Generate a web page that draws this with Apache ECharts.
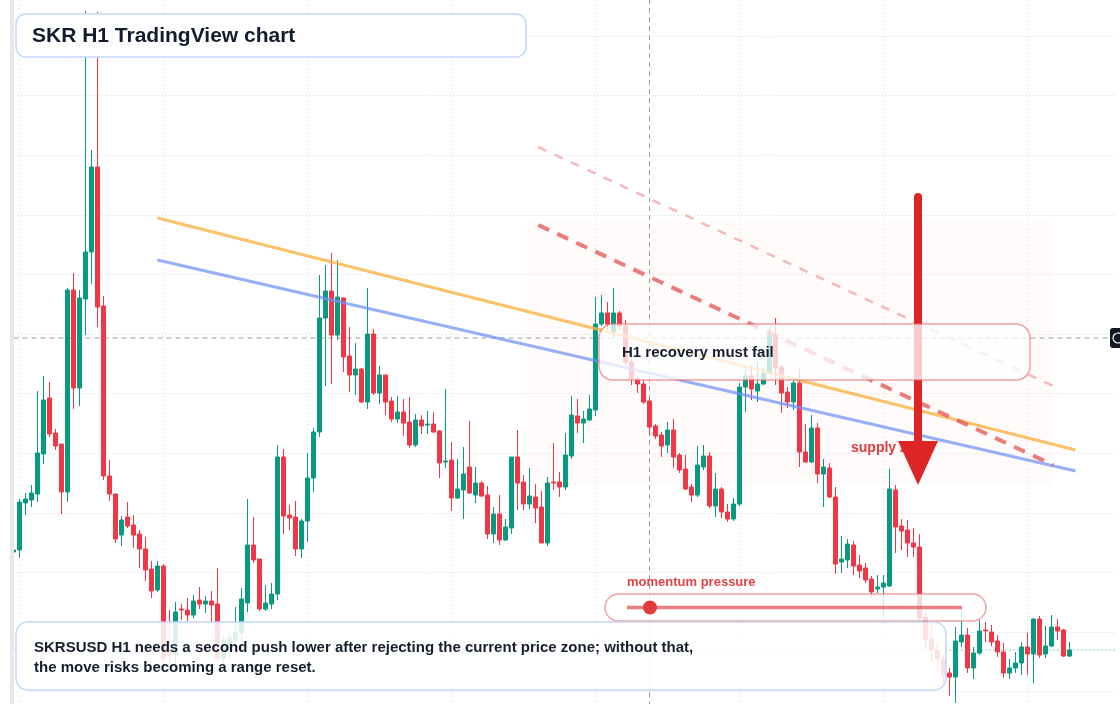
<!DOCTYPE html>
<html>
<head>
<meta charset="utf-8">
<title>SKR H1 TradingView chart</title>
<script src="https://cdn.jsdelivr.net/npm/echarts@6/dist/echarts.min.js"></script>
<style>
    html, body {margin: 0; padding: 0; background: #fff;}
    #chart {width: 1120px; height: 704px;}
</style>
</head>
<body>
<div id="chart"></div>
<script>
// SKRUSD hourly candles
const opens = [
    0.02464, 0.02466, 0.02513, 0.02516, 0.02522, 0.02562, 0.02618, 0.02583, 0.02572, 0.02524,
    0.02726, 0.02628, 0.02717, 0.02764, 0.02849, 0.02710, 0.02540, 0.02522, 0.02481, 0.02499,
    0.02491, 0.02482, 0.02467, 0.02447, 0.02426, 0.02450, 0.02366, 0.02361, 0.02407, 0.02406,
    0.02401, 0.02416, 0.02412, 0.02415, 0.02412, 0.02358, 0.02368, 0.02376, 0.02383, 0.02413,
    0.02471, 0.02457, 0.02407, 0.02412, 0.02422, 0.02559, 0.02501, 0.02499, 0.02467, 0.02495,
    0.02538, 0.02584, 0.02698, 0.02725, 0.02681, 0.02718, 0.02660, 0.02641, 0.02647, 0.02614,
    0.02682, 0.02623, 0.02641, 0.02615, 0.02597, 0.02604, 0.02594, 0.02571, 0.02596, 0.02591,
    0.02592, 0.02585, 0.02554, 0.02556, 0.02518, 0.02526, 0.02549, 0.02521, 0.02533, 0.02521,
    0.02482, 0.02502, 0.02476, 0.02488, 0.02559, 0.02534, 0.02512, 0.02519, 0.02509, 0.02473,
    0.02534, 0.02534, 0.02529, 0.02560, 0.02600, 0.02593, 0.02596, 0.02606, 0.02692, 0.02703,
    0.02684, 0.02703, 0.02690, 0.02654, 0.02637, 0.02632, 0.02615, 0.02590, 0.02581, 0.02571,
    0.02586, 0.02561, 0.02547, 0.02529, 0.02521, 0.02549, 0.02560, 0.02510, 0.02527, 0.02504,
    0.02497, 0.02512, 0.02629, 0.02640, 0.02625, 0.02632, 0.02643, 0.02681, 0.02649, 0.02624,
    0.02614, 0.02633, 0.02564, 0.02554, 0.02588, 0.02542, 0.02548, 0.02519, 0.02454, 0.02456,
    0.02471, 0.02451, 0.02448, 0.02437, 0.02427, 0.02429, 0.02430, 0.02526, 0.02490, 0.02486,
    0.02473, 0.02469, 0.02399, 0.02377, 0.02366, 0.02357, 0.02343, 0.02339, 0.02374, 0.02381,
    0.02348, 0.02363, 0.02386, 0.02384, 0.02375, 0.02364, 0.02343, 0.02348, 0.02353, 0.02369,
    0.02362, 0.02397, 0.02362, 0.02370, 0.02389, 0.02386, 0.02360
];
const closes = [
    0.02466, 0.02514, 0.02517, 0.02523, 0.02563, 0.02616, 0.02582, 0.02570, 0.02524, 0.02726,
    0.02628, 0.02718, 0.02764, 0.02849, 0.02709, 0.02540, 0.02522, 0.02477, 0.02496, 0.02490,
    0.02481, 0.02467, 0.02446, 0.02425, 0.02450, 0.02358, 0.02361, 0.02404, 0.02406, 0.02401,
    0.02415, 0.02412, 0.02415, 0.02411, 0.02358, 0.02376, 0.02378, 0.02384, 0.02417, 0.02471,
    0.02456, 0.02407, 0.02413, 0.02422, 0.02559, 0.02500, 0.02498, 0.02467, 0.02495, 0.02538,
    0.02584, 0.02698, 0.02725, 0.02681, 0.02719, 0.02659, 0.02641, 0.02647, 0.02614, 0.02682,
    0.02623, 0.02641, 0.02614, 0.02597, 0.02604, 0.02593, 0.02571, 0.02596, 0.02590, 0.02592,
    0.02584, 0.02553, 0.02555, 0.02518, 0.02527, 0.02542, 0.02523, 0.02533, 0.02520, 0.02482,
    0.02502, 0.02476, 0.02489, 0.02559, 0.02533, 0.02512, 0.02520, 0.02508, 0.02473, 0.02533,
    0.02533, 0.02529, 0.02561, 0.02601, 0.02593, 0.02597, 0.02607, 0.02692, 0.02703, 0.02692,
    0.02703, 0.02690, 0.02654, 0.02637, 0.02632, 0.02614, 0.02589, 0.02580, 0.02570, 0.02586,
    0.02559, 0.02546, 0.02527, 0.02521, 0.02551, 0.02560, 0.02510, 0.02527, 0.02504, 0.02497,
    0.02512, 0.02629, 0.02640, 0.02627, 0.02632, 0.02643, 0.02681, 0.02648, 0.02623, 0.02614,
    0.02633, 0.02564, 0.02554, 0.02588, 0.02542, 0.02549, 0.02519, 0.02452, 0.02457, 0.02472,
    0.02450, 0.02445, 0.02436, 0.02424, 0.02429, 0.02433, 0.02527, 0.02489, 0.02485, 0.02473,
    0.02469, 0.02398, 0.02376, 0.02366, 0.02357, 0.02341, 0.02339, 0.02375, 0.02381, 0.02348,
    0.02363, 0.02385, 0.02385, 0.02374, 0.02364, 0.02343, 0.02348, 0.02353, 0.02369, 0.02362,
    0.02397, 0.02361, 0.02370, 0.02389, 0.02385, 0.02360, 0.02366
];
const lows = [
    0.02463, 0.02458, 0.02501, 0.02509, 0.02514, 0.02552, 0.02579, 0.02566, 0.02502, 0.02514,
    0.02607, 0.02610, 0.02681, 0.02732, 0.02689, 0.02536, 0.02515, 0.02473, 0.02470, 0.02488,
    0.02468, 0.02448, 0.02435, 0.02418, 0.02424, 0.02354, 0.02351, 0.02351, 0.02396, 0.02395,
    0.02398, 0.02407, 0.02403, 0.02394, 0.02355, 0.02353, 0.02357, 0.02370, 0.02376, 0.02404,
    0.02453, 0.02405, 0.02405, 0.02407, 0.02416, 0.02482, 0.02486, 0.02460, 0.02458, 0.02474,
    0.02524, 0.02579, 0.02630, 0.02632, 0.02676, 0.02644, 0.02624, 0.02621, 0.02613, 0.02607,
    0.02621, 0.02612, 0.02601, 0.02594, 0.02593, 0.02580, 0.02568, 0.02569, 0.02582, 0.02582,
    0.02583, 0.02538, 0.02548, 0.02505, 0.02517, 0.02497, 0.02522, 0.02513, 0.02519, 0.02477,
    0.02473, 0.02471, 0.02475, 0.02482, 0.02506, 0.02506, 0.02507, 0.02493, 0.02473, 0.02470,
    0.02526, 0.02519, 0.02526, 0.02557, 0.02583, 0.02573, 0.02595, 0.02600, 0.02690, 0.02686,
    0.02678, 0.02686, 0.02651, 0.02631, 0.02623, 0.02612, 0.02581, 0.02577, 0.02559, 0.02563,
    0.02548, 0.02543, 0.02526, 0.02514, 0.02519, 0.02546, 0.02508, 0.02499, 0.02498, 0.02494,
    0.02495, 0.02510, 0.02604, 0.02616, 0.02614, 0.02631, 0.02642, 0.02631, 0.02603, 0.02608,
    0.02606, 0.02549, 0.02553, 0.02553, 0.02533, 0.02509, 0.02518, 0.02442, 0.02443, 0.02448,
    0.02441, 0.02438, 0.02433, 0.02418, 0.02423, 0.02399, 0.02429, 0.02463, 0.02466, 0.02459,
    0.02459, 0.02396, 0.02366, 0.02354, 0.02344, 0.02331, 0.02320, 0.02313, 0.02369, 0.02343,
    0.02337, 0.02361, 0.02374, 0.02370, 0.02359, 0.02338, 0.02337, 0.02343, 0.02341, 0.02341,
    0.02333, 0.02358, 0.02358, 0.02369, 0.02376, 0.02359, 0.02359
];
const highs = [
    0.02467, 0.02517, 0.02523, 0.02531, 0.02625, 0.02640, 0.02634, 0.02587, 0.02572, 0.02728,
    0.02743, 0.02726, 0.03005, 0.02866, 0.03004, 0.02720, 0.02556, 0.02522, 0.02500, 0.02514,
    0.02501, 0.02486, 0.02479, 0.02455, 0.02455, 0.02452, 0.02406, 0.02414, 0.02412, 0.02418,
    0.02421, 0.02429, 0.02420, 0.02425, 0.02448, 0.02380, 0.02383, 0.02409, 0.02428, 0.02517,
    0.02499, 0.02457, 0.02431, 0.02433, 0.02571, 0.02567, 0.02511, 0.02515, 0.02497, 0.02563,
    0.02588, 0.02741, 0.02751, 0.02763, 0.02756, 0.02719, 0.02689, 0.02673, 0.02648, 0.02728,
    0.02687, 0.02650, 0.02641, 0.02619, 0.02620, 0.02617, 0.02619, 0.02602, 0.02601, 0.02605,
    0.02604, 0.02586, 0.02627, 0.02574, 0.02557, 0.02569, 0.02595, 0.02549, 0.02535, 0.02530,
    0.02509, 0.02521, 0.02497, 0.02559, 0.02586, 0.02541, 0.02548, 0.02532, 0.02525, 0.02539,
    0.02573, 0.02544, 0.02583, 0.02620, 0.02617, 0.02605, 0.02621, 0.02719, 0.02721, 0.02714,
    0.02728, 0.02705, 0.02696, 0.02661, 0.02640, 0.02636, 0.02618, 0.02592, 0.02584, 0.02594,
    0.02597, 0.02563, 0.02561, 0.02532, 0.02570, 0.02571, 0.02564, 0.02543, 0.02529, 0.02512,
    0.02518, 0.02633, 0.02647, 0.02651, 0.02654, 0.02648, 0.02688, 0.02698, 0.02651, 0.02629,
    0.02636, 0.02647, 0.02592, 0.02601, 0.02593, 0.02557, 0.02553, 0.02529, 0.02480, 0.02477,
    0.02475, 0.02461, 0.02453, 0.02440, 0.02441, 0.02441, 0.02547, 0.02531, 0.02497, 0.02496,
    0.02488, 0.02482, 0.02404, 0.02391, 0.02373, 0.02361, 0.02348, 0.02389, 0.02404, 0.02388,
    0.02369, 0.02396, 0.02394, 0.02391, 0.02381, 0.02373, 0.02357, 0.02364, 0.02374, 0.02383,
    0.02398, 0.02400, 0.02390, 0.02401, 0.02397, 0.02387, 0.02374
];

// drawn levels: [bar index, price]
const trendOrange = [[24, 0.02798], [177, 0.02566]];
const trendBlue = [[24, 0.02756], [177, 0.02545]];
const rejectDash = [[87.45, 0.02791], [173.3, 0.02551]];
const upperDash = [[87.45, 0.02869], [173.3, 0.02630]];
const supplyZone = {from: [85.6, 0.02531], to: [173.1, 0.02794]};
const crosshairBar = 106;
const crosshairPrice = 0.02678;

// price scale (ticks every 0.000596)
const priceMin = 0.022648;
const priceMax = 0.030396;
const priceStep = 0.000596;

// hourly slots, 8 empty ones on the right
const hours = [];
const startTime = Date.UTC(2026, 0, 19, 23);
for (let i = 0; i < 185; i++) {
    const d = new Date(startTime + i * 3600000);
    hours.push((d.getUTCMonth() + 1) + '/' + d.getUTCDate() + ' ' + String(d.getUTCHours()).padStart(2, '0') + ':00');
}

const up = '#089981';
const down = '#f23645';
const font = '"Liberation Sans", Arial, sans-serif';
const candles = opens.map((o, i) => [o, closes[i], lows[i], highs[i]]);
const lastClose = closes[closes.length - 1];

const chart = echarts.init(document.getElementById('chart'));

const overlayLine = (data, color, width, dash, z, extra) => Object.assign({
    type: 'line',
    xAxisIndex: 1,
    data: data,
    showSymbol: false,
    silent: true,
    z: z,
    lineStyle: {color: color, width: width, type: dash}
}, extra || {});

const option = {
    animation: false,
    backgroundColor: '#fff',
    grid: {left: 13.5, right: 2.5, top: -23.6, bottom: -47.2, outerBoundsMode: 'none', containLabel: false},
    xAxis: [
        {
            type: 'category',
            data: hours,
            boundaryGap: false,
            axisLine: {show: false},
            axisTick: {show: false},
            axisLabel: {show: false},
            splitLine: {
                show: true,
                interval: (index) => index % 24 === 1,
                lineStyle: {color: '#cfd3d9', width: 1, type: [1, 3]}
            }
        },
        {type: 'value', min: 0, max: 184, show: false}
    ],
    yAxis: {
        type: 'value',
        min: priceMin,
        max: priceMax,
        interval: priceStep,
        axisLine: {show: false},
        axisTick: {show: false},
        axisLabel: {show: false},
        splitLine: {lineStyle: {color: '#cfd3d9', width: 1, type: [1, 3]}}
    },
    series: [
        // last price and crosshair sit under the candles / boxes
        overlayLine([[0, lastClose], [184, lastClose]], up, 1, [1, 3], 1),
        overlayLine([[0, crosshairPrice], [182.8, crosshairPrice]], '#9a9da3', 1, [5, 4], 1),
        overlayLine([[crosshairBar, priceMin], [crosshairBar, priceMax]], '#9a9da3', 1, [5, 4], 1),
        {
            name: 'SKRUSD',
            type: 'candlestick',
            data: candles,
            barWidth: 4,
            z: 2,
            itemStyle: {color: up, color0: down, borderColor: up, borderColor0: down, borderWidth: 1}
        },
        overlayLine(trendOrange, 'rgba(250,178,70,0.8)', 3, 'solid', 3, {
            markArea: {
                silent: true,
                z: 0,
                itemStyle: {color: 'rgba(250,205,180,0.07)'},
                data: [[
                    {coord: supplyZone.from},
                    {coord: supplyZone.to}
                ]]
            }
        }),
        overlayLine(trendBlue, 'rgba(110,145,245,0.72)', 3, 'solid', 3),
        overlayLine(upperDash, 'rgba(238,130,130,0.55)', 2.5, [9, 9], 3),
        overlayLine(rejectDash, 'rgba(228,82,82,0.75)', 4, [12, 9], 3)
    ],
    graphic: [
        {type: 'rect', z: 20, shape: {x: 10, y: 0, width: 4, height: 704}, style: {fill: '#e8e8e8'}},
        {type: 'text', z: 10, style: {text: 'supply zone', x: 851, y: 448, font: 'bold 14px ' + font, fill: '#e23a3f', textVerticalAlign: 'middle'}},
        {type: 'rect', z: 11, shape: {x: 914, y: 193, width: 8, height: 252, r: 4}, style: {fill: '#dc2626'}},
        {type: 'polygon', z: 11, shape: {points: [[898, 441], [938, 441], [918, 485]]}, style: {fill: '#dc2626'}},
        {type: 'rect', z: 12, shape: {x: 599, y: 324, width: 431, height: 56, r: 14}, style: {fill: 'rgba(255,255,255,0.76)', stroke: 'rgba(232,100,100,0.6)', lineWidth: 1.5}},
        {type: 'text', z: 13, style: {text: 'H1 recovery must fail', x: 622, y: 353, font: 'bold 15px ' + font, fill: '#161e2e', textVerticalAlign: 'middle'}},
        {type: 'text', z: 13, style: {text: 'momentum pressure', x: 627, y: 582, font: 'bold 13px ' + font, fill: '#e04444', textVerticalAlign: 'middle'}},
        {type: 'rect', z: 12, shape: {x: 605, y: 594, width: 381, height: 27, r: 13.5}, style: {fill: 'rgba(255,255,255,0.8)', stroke: 'rgba(232,100,100,0.6)', lineWidth: 1.5}},
        {type: 'line', z: 13, shape: {x1: 627, y1: 607.5, x2: 962, y2: 607.5}, style: {stroke: 'rgba(226,86,86,0.75)', lineWidth: 3.5}},
        {type: 'circle', z: 14, shape: {cx: 650, cy: 607.5, r: 7}, style: {fill: '#e23b3b'}},
        {type: 'rect', z: 12, shape: {x: 16, y: 622, width: 930, height: 68, r: 12}, style: {fill: 'rgba(255,255,255,0.86)', stroke: 'rgba(190,212,250,0.9)', lineWidth: 1.5}},
        {type: 'text', z: 13, style: {text: 'SKRSUSD H1 needs a second push lower after rejecting the current price zone; without that,', x: 34, y: 648, font: 'bold 15px ' + font, fill: '#161e2e', textVerticalAlign: 'middle'}},
        {type: 'text', z: 13, style: {text: 'the move risks becoming a range reset.', x: 34, y: 668, font: 'bold 15px ' + font, fill: '#161e2e', textVerticalAlign: 'middle'}},
        {type: 'rect', z: 12, shape: {x: 16, y: 14, width: 510, height: 43, r: 10}, style: {fill: '#fff', stroke: 'rgba(190,212,250,0.9)', lineWidth: 1.5}},
        {type: 'text', z: 13, style: {text: 'SKR H1 TradingView chart', x: 32, y: 36, font: 'bold 21px ' + font, fill: '#131c2e', textVerticalAlign: 'middle'}},
        {type: 'rect', z: 15, shape: {x: 1110, y: 328, width: 14, height: 20, r: 3}, style: {fill: '#131722'}},
        {type: 'circle', z: 16, shape: {cx: 1118, cy: 338, r: 5}, style: {fill: 'none', stroke: '#fff', lineWidth: 1.2}}
    ]
};

chart.setOption(option);
</script>
</body>
</html>
